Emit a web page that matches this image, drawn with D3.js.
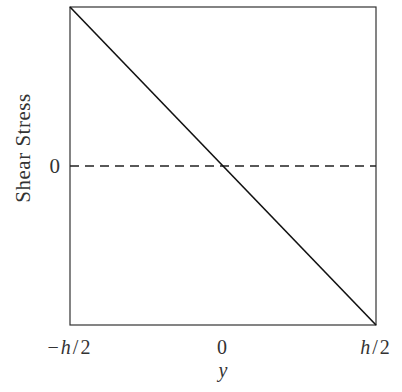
<!DOCTYPE html>
<html>
<head>
<meta charset="utf-8">
<script src="https://cdn.jsdelivr.net/npm/d3@7"></script>
<style>
  body { margin: 0; background: #fff; }
  text { font-family: "Liberation Serif", "DejaVu Serif", serif; fill: #333; }
</style>
</head>
<body>
<div id="chart"></div>
<script>
// shear stress varies linearly across the section, from +max at -h/2 to -max at h/2
const positions = [-0.5, 0.5];
const stress = [1, -1];
const xTicks = [-0.5, 0, 0.5];
const xTickLabels = ['\u2212h/2', '0', 'h/2'];
const yTicks = [0];
const yTickLabels = ['0'];

const margin = { top: 7, right: 26, bottom: 67, left: 70 };
const width = 402 - margin.left - margin.right;
const height = 392 - margin.top - margin.bottom;

const svg = d3.select('#chart')
  .append('svg')
  .attr('width', 402)
  .attr('height', 392)
  .append('g')
  .attr('transform', `translate(${margin.left},${margin.top})`);

const x = d3.scaleLinear().domain([-0.5, 0.5]).range([0, width]);
const y = d3.scaleLinear().domain([-1, 1]).range([height, 0]);

// frame
svg.append('rect')
  .attr('x', 0).attr('y', 0)
  .attr('width', width).attr('height', height)
  .attr('fill', 'none')
  .attr('stroke', '#333')
  .attr('stroke-width', 1.2);

// zero reference line
svg.append('line')
  .attr('x1', x(-0.5)).attr('x2', x(0.5))
  .attr('y1', y(0)).attr('y2', y(0))
  .attr('stroke', '#222')
  .attr('stroke-width', 1.4)
  .attr('stroke-dasharray', '9,6');

// stress line
const data = positions.map((p, i) => ({ p, s: stress[i] }));
svg.append('path')
  .datum(data)
  .attr('fill', 'none')
  .attr('stroke', '#111')
  .attr('stroke-width', 1.6)
  .attr('d', d3.line().x(d => x(d.p)).y(d => y(d.s)));

// x tick labels (h in italic)
svg.selectAll('.xlabel')
  .data(xTicks)
  .enter().append('text')
  .attr('class', 'xlabel')
  .attr('x', d => x(d))
  .attr('y', height + 29)
  .attr('text-anchor', 'middle')
  .style('font-size', '20px')
  .style('letter-spacing', '2px')
  .each(function (d, i) {
    const t = d3.select(this);
    const lab = xTickLabels[i];
    const k = lab.indexOf('h');
    if (k < 0) { t.text(lab); return; }
    t.append('tspan').text(lab.slice(0, k));
    t.append('tspan').style('font-style', 'italic').text('h');
    t.append('tspan').text(lab.slice(k + 1));
  });

// y tick labels
svg.selectAll('.ylabel')
  .data(yTicks)
  .enter().append('text')
  .attr('class', 'ylabel')
  .attr('x', -10)
  .attr('y', d => y(d))
  .attr('dy', '0.35em')
  .attr('text-anchor', 'end')
  .style('font-size', '21px')
  .text((d, i) => yTickLabels[i]);

// axis titles
svg.append('text')
  .attr('x', width / 2)
  .attr('y', height + 52)
  .attr('text-anchor', 'middle')
  .style('font-size', '20px')
  .style('font-style', 'italic')
  .text('y');

svg.append('text')
  .attr('transform', 'rotate(-90)')
  .attr('x', -(148 - margin.top))
  .attr('y', -40)
  .attr('text-anchor', 'middle')
  .style('font-size', '21px')
  .style('letter-spacing', '0.5px')
  .text('Shear Stress');
</script>
</body>
</html>
